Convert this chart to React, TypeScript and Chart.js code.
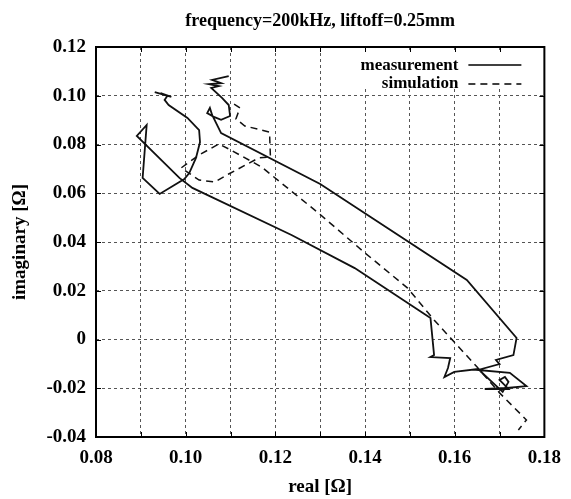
import React, { useEffect, useRef } from "react";
import { Chart, registerables } from "chart.js";

Chart.register(...registerables);

const titleText = "frequency=200kHz, liftoff=0.25mm";
const xLabel = "real [Ω]";
const yLabel = "imaginary [Ω]";
const legendNames = ["measurement", "simulation"];

const measReal = [
  0.1096, 0.1059, 0.1079, 0.1052, 0.1074, 0.1057, 0.1081, 0.1096, 0.1099, 0.1079,
  0.1063, 0.1048, 0.1054, 0.1059, 0.1079, 0.13, 0.1627, 0.1738, 0.1731, 0.1692,
  0.17, 0.1652, 0.1723, 0.176, 0.1716, 0.1667, 0.172, 0.17, 0.1712, 0.172,
  0.1707, 0.1652, 0.1599, 0.1577, 0.1585, 0.159, 0.1546, 0.1554, 0.1546, 0.1377,
  0.1236, 0.1015, 0.0986, 0.0891, 0.0913, 0.0904, 0.0942, 0.0997, 0.1008, 0.1023,
  0.1032, 0.103, 0.1004, 0.0962, 0.0953, 0.0959, 0.0944, 0.0968, 0.0931,
];
const measImag = [
  0.1081, 0.1065, 0.1052, 0.1048, 0.104, 0.1032, 0.0991, 0.0962, 0.0917, 0.0901,
  0.0913, 0.0929, 0.095, 0.0921, 0.0847, 0.0638, 0.0244, 0.0006, -0.0064, -0.0084,
  -0.0101, -0.0125, -0.0137, -0.0191, -0.0199, -0.0203, -0.0203, -0.0166, -0.0154, -0.0174,
  -0.0215, -0.0121, -0.0133, -0.0154, -0.0117, -0.0076, -0.0072, -0.0064, 0.0088, 0.0293,
  0.0429, 0.0622, 0.0663, 0.0835, 0.088, 0.0663, 0.0597, 0.0658, 0.0683, 0.0745,
  0.081, 0.0859, 0.0909, 0.0962, 0.0983, 0.0999, 0.1011, 0.0995, 0.1015,
];

const simReal = [
  0.1108, 0.1121, 0.1112, 0.1132, 0.1187, 0.1189, 0.1163, 0.1096, 0.1065, 0.103,
  0.099, 0.103, 0.1074, 0.1101, 0.1169, 0.1296, 0.14, 0.1495, 0.1554, 0.165,
  0.17, 0.176, 0.1742,
];
const simImag = [
  0.0966, 0.095, 0.0905, 0.0876, 0.0851, 0.0749, 0.0745, 0.0679, 0.0646, 0.0654,
  0.0704, 0.0757, 0.0802, 0.0777, 0.0708, 0.0519, 0.0355, 0.0211, 0.008, -0.0113,
  -0.0219, -0.033, -0.0371,
];

const xTicks = [0.08, 0.09, 0.1, 0.11, 0.12, 0.13, 0.14, 0.15, 0.16, 0.17, 0.18];
const yTicks = [-0.04, -0.02, 0, 0.02, 0.04, 0.06, 0.08, 0.1, 0.12];

const SERIF = '"Liberation Serif", "Times New Roman", serif';

const decorPlugin = {
  id: "decor",
  beforeDatasetsDraw(chart: any) {
    const { ctx, chartArea } = chart;
    const { right, top } = chartArea;
    ctx.save();
    ctx.fillStyle = "#fff";
    ctx.fillRect(right - 192, top + 6, 188, 36);
    ctx.restore();
  },
  afterDraw(chart: any) {
    const { ctx, chartArea, scales } = chart;
    const { left, right, top, bottom } = chartArea;
    ctx.save();
    // tick marks
    ctx.strokeStyle = "#000";
    ctx.lineWidth = 1;
    ctx.setLineDash([]);
    ctx.beginPath();
    for (const v of xTicks) {
      const px = Math.round(scales.x.getPixelForValue(v)) + 0.5;
      ctx.moveTo(px, bottom);
      ctx.lineTo(px, bottom - 5);
      ctx.moveTo(px, top);
      ctx.lineTo(px, top + 5);
    }
    for (const v of yTicks) {
      const py = Math.round(scales.y.getPixelForValue(v)) + 0.5;
      ctx.moveTo(left, py);
      ctx.lineTo(left + 5, py);
      ctx.moveTo(right, py);
      ctx.lineTo(right - 5, py);
    }
    ctx.stroke();
    // frame
    ctx.lineWidth = 2;
    ctx.strokeRect(left, top, right - left, bottom - top);
    // legend
    ctx.fillStyle = "#000";
    ctx.font = `bold 17px ${SERIF}`;
    ctx.textAlign = "right";
    ctx.textBaseline = "middle";
    ctx.fillText(legendNames[0], right - 86, top + 19);
    ctx.fillText(legendNames[1], right - 86, top + 37);
    ctx.lineWidth = 1.6;
    ctx.beginPath();
    ctx.moveTo(right - 76, top + 18);
    ctx.lineTo(right - 23, top + 18);
    ctx.stroke();
    ctx.setLineDash([7, 5]);
    ctx.beginPath();
    ctx.moveTo(right - 76, top + 37);
    ctx.lineTo(right - 23, top + 37);
    ctx.stroke();
    ctx.setLineDash([]);
    // title
    ctx.font = `bold 18px ${SERIF}`;
    ctx.textAlign = "center";
    ctx.textBaseline = "middle";
    ctx.fillText(titleText, (left + right) / 2, 21);
    ctx.restore();
  },
};

export default function App() {
  const ref = useRef<HTMLCanvasElement | null>(null);

  useEffect(() => {
    if (!ref.current) return;
    const measPts = measReal.map((x, i) => ({ x, y: measImag[i] }));
    const simPts = simReal.map((x, i) => ({ x, y: simImag[i] }));
    const gridCommon = {
      color: "#555",
      lineWidth: 1,
      drawTicks: false,
    };
    const chart = new Chart(ref.current, {
      type: "scatter",
      data: {
        datasets: [
          {
            label: legendNames[0],
            data: measPts,
            showLine: true,
            borderColor: "#111",
            borderWidth: 1.8,
            pointRadius: 0,
            tension: 0,
            fill: false,
          },
          {
            label: legendNames[1],
            data: simPts,
            showLine: true,
            borderColor: "#111",
            borderWidth: 1.5,
            borderDash: [7, 5],
            pointRadius: 0,
            tension: 0,
            fill: false,
          },
        ],
      },
      options: {
        animation: false,
        responsive: false,
        layout: { padding: { top: 47, right: 23, left: 0, bottom: 0 } },
        plugins: {
          legend: { display: false },
          tooltip: { enabled: false },
          title: { display: false },
        },
        scales: {
          x: {
            type: "linear",
            min: 0.08,
            max: 0.18,
            afterFit: (s: any) => {
              s.height = 62;
            },
            afterBuildTicks: (s: any) => {
              s.ticks = xTicks.map((v) => ({ value: v }));
            },
            grid: gridCommon,
            border: { display: false, dash: [3, 3] },
            ticks: {
              padding: 10,
              color: "#000",
              font: { family: SERIF, size: 19, weight: "bold" },
              maxRotation: 0,
              autoSkip: false,
              callback: (v: any) => {
                const n = Math.round(Number(v) * 100);
                return n % 2 === 0 ? Number(v).toFixed(2) : "";
              },
            },
            title: {
              display: true,
              text: xLabel,
              color: "#000",
              font: { family: SERIF, size: 19, weight: "bold" },
              padding: { top: 0, bottom: 1 },
            },
          },
          y: {
            type: "linear",
            min: -0.04,
            max: 0.12,
            afterFit: (s: any) => {
              s.width = 96;
            },
            afterBuildTicks: (s: any) => {
              s.ticks = yTicks.map((v) => ({ value: v }));
            },
            grid: gridCommon,
            border: { display: false, dash: [3, 3] },
            ticks: {
              padding: 10,
              color: "#000",
              font: { family: SERIF, size: 19, weight: "bold" },
              autoSkip: false,
              callback: (v: any) => {
                const n = Number(v);
                return Math.abs(n) < 1e-9 ? "0" : n.toFixed(2);
              },
            },
            title: {
              display: true,
              text: yLabel,
              color: "#000",
              font: { family: SERIF, size: 19, weight: "bold" },
              padding: { top: 9, bottom: 0 },
            },
          },
        },
      },
      plugins: [decorPlugin],
    });
    return () => chart.destroy();
  }, []);

  return (
    <div style={{ position: "absolute", left: 0, top: 0, width: 571, height: 499, background: "#fff" }}>
      <canvas ref={ref} width={571} height={499} style={{ width: 571, height: 499 }} />
    </div>
  );
}
